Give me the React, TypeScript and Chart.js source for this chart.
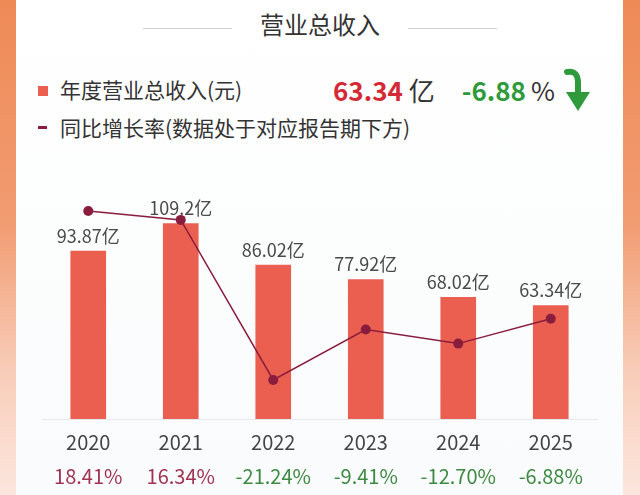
import React, { useEffect, useRef } from 'react';
import { Chart, registerables } from 'chart.js';

Chart.register(...registerables);

const years = ['2020', '2021', '2022', '2023', '2024', '2025'];
const revenue = [93.87, 109.2, 86.02, 77.92, 68.02, 63.34];
const growth = [18.41, 16.34, -21.24, -9.41, -12.7, -6.88];
const growthLabels = ['18.41%', '16.34%', '-21.24%', '-9.41%', '-12.70%', '-6.88%'];
const headlineValue = '63.34';
const headlineGrowth = '-6.88';

const FONT = '"Noto Sans CJK SC", "Noto Sans", sans-serif';
const BAR_COLOR = '#ea5f4f';
const LINE_COLOR = '#8a1d3e';
const POS_COLOR = '#a03452';
const NEG_COLOR = '#3d8a42';

const labelPlugin = {
  id: 'customLabels',
  afterDatasetsDraw(chart: any) {
    const ctx = chart.ctx;
    const barMeta = chart.getDatasetMeta(1);
    const xScale = chart.scales.x;
    ctx.save();
    ctx.textAlign = 'center';
    ctx.textBaseline = 'middle';
    ctx.font = `18px ${FONT}`;
    ctx.fillStyle = '#4a4a4a';
    barMeta.data.forEach((bar: any, i: number) => {
      ctx.fillText(`${revenue[i]}亿`, bar.x, bar.y - 15);
    });
    ctx.font = `20px ${FONT}`;
    growthLabels.forEach((t, i) => {
      ctx.fillStyle = growth[i] >= 0 ? POS_COLOR : NEG_COLOR;
      ctx.fillText(t, xScale.getPixelForValue(i), chart.chartArea.bottom + 57);
    });
    ctx.restore();
  },
};

function ChartCanvas() {
  const ref = useRef<HTMLCanvasElement | null>(null);
  useEffect(() => {
    if (!ref.current) return;
    const chart = new Chart(ref.current, {
      type: 'bar',
      data: {
        labels: years,
        datasets: [
          {
            type: 'line',
            label: '同比增长率',
            data: growth,
            yAxisID: 'y2',
            borderColor: LINE_COLOR,
            backgroundColor: LINE_COLOR,
            borderWidth: 1.5,
            pointRadius: 5,
            pointBackgroundColor: LINE_COLOR,
            pointBorderWidth: 0,
            tension: 0,
            order: 0,
          } as any,
          {
            type: 'bar',
            label: '年度营业总收入(元)',
            data: revenue,
            yAxisID: 'y',
            backgroundColor: BAR_COLOR,
            barThickness: 35,
            order: 1,
          },
        ],
      },
      options: {
        responsive: false,
        animation: false,
        layout: { padding: { left: 42, right: 43, top: 160, bottom: 0 } },
        plugins: { legend: { display: false }, tooltip: { enabled: false } },
        scales: {
          x: {
            grid: { display: false, drawTicks: false },
            border: { display: true, color: '#e6e8ec', width: 1 },
            ticks: { color: '#444', font: { size: 20, family: FONT }, padding: 11 },
            afterFit: (scale: any) => {
              scale.height = 76;
            },
          },
          y: { display: false, min: 0, max: 144.7 },
          y2: { display: false, min: -30.4, max: 30.4, position: 'right' },
        },
      },
      plugins: [labelPlugin],
    });
    return () => chart.destroy();
  }, []);
  return (
    <canvas
      ref={ref}
      width={640}
      height={495}
      style={{ position: 'absolute', left: 0, top: 0, width: 640, height: 495 }}
    />
  );
}

export default function App() {
  return (
    <div
      style={{
        position: 'fixed',
        left: 0,
        top: 0,
        width: 640,
        height: 495,
        overflow: 'hidden',
        background: 'linear-gradient(to bottom, #ee8a56 0%, #f29c72 45%, #f8cdb9 75%, #fce6de 100%)',
        fontFamily: FONT,
      }}
    >
      <div
        style={{
          position: 'absolute',
          left: 16,
          top: 0,
          width: 607,
          height: 495,
          background: 'linear-gradient(to bottom, #ffffff, #fafbfc)',
        }}
      />
      <div style={{ position: 'absolute', left: 143, top: 28, width: 89, height: 1, background: '#cfcfcf' }} />
      <div style={{ position: 'absolute', left: 408, top: 28, width: 89, height: 1, background: '#cfcfcf' }} />
      <div
        style={{
          position: 'absolute',
          left: 0,
          top: 9,
          width: 640,
          textAlign: 'center',
          fontSize: 24,
          color: '#333',
          lineHeight: '30px',
        }}
      >
        营业总收入
      </div>
      <div style={{ position: 'absolute', left: 38, top: 86, width: 10, height: 10, background: BAR_COLOR }} />
      <div style={{ position: 'absolute', left: 60, top: 75, fontSize: 21, color: '#333', lineHeight: '28px', whiteSpace: 'nowrap' }}>
        年度营业总收入(元)
      </div>
      <div style={{ position: 'absolute', left: 38, top: 126, width: 9, height: 3, background: LINE_COLOR }} />
      <div style={{ position: 'absolute', left: 60, top: 113, fontSize: 21, color: '#333', lineHeight: '28px', whiteSpace: 'nowrap' }}>
        同比增长率(数据处于对应报告期下方)
      </div>
      <div
        style={{
          position: 'absolute',
          left: 333,
          top: 73,
          fontSize: 26,
          lineHeight: '34px',
          whiteSpace: 'nowrap',
          color: '#333',
        }}
      >
        <span style={{ color: '#d42a36', fontWeight: 700 }}>{headlineValue}</span>
        <span style={{ marginLeft: 6 }}>亿</span>
        <span style={{ color: '#2f9a3c', fontWeight: 700, marginLeft: 27 }}>{headlineGrowth}</span>
        <span style={{ marginLeft: 5 }}>%</span>
      </div>
      <svg
        width={36}
        height={50}
        viewBox="0 0 36 50"
        style={{ position: 'absolute', left: 558, top: 64 }}
      >
        <path d="M9 8 Q 20 6, 20 19 L 20 32" stroke="#2f9a3c" strokeWidth={6} fill="none" strokeLinecap="round" />
        <path d="M8 28 L 20 47 L 32 28 Z" fill="#2f9a3c" />
      </svg>
      <ChartCanvas />
    </div>
  );
}
